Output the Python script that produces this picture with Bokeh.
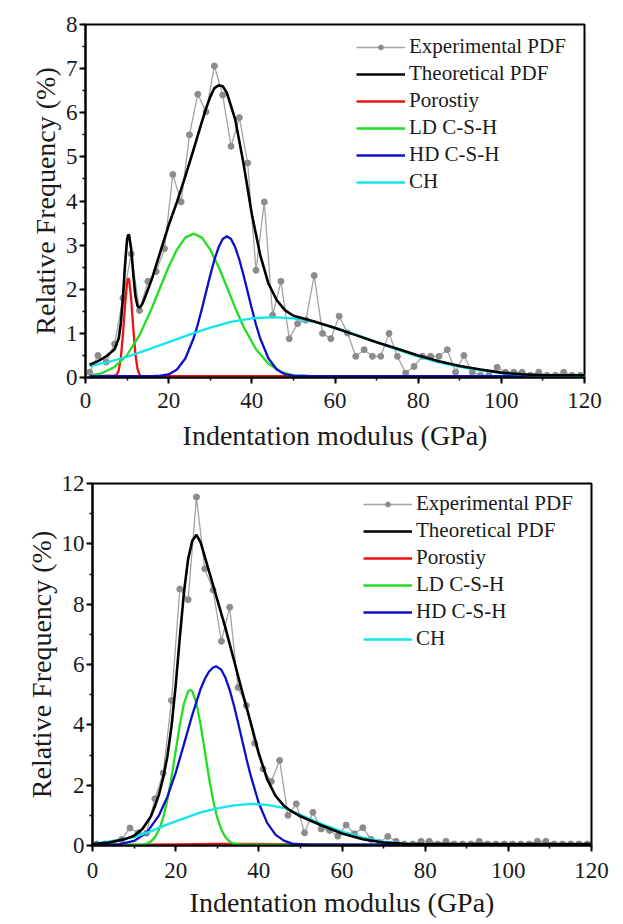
from bokeh.plotting import figure
from bokeh.models import Legend, LegendItem, Label, SingleIntervalTicker, Range1d
from bokeh.layouts import column, row
from bokeh.embed import file_html
from bokeh.resources import INLINE

FONT = "Liberation Serif"

series_names = ["Experimental PDF", "Theoretical PDF", "Porostiy", "LD C-S-H", "HD C-S-H", "CH"]

# ---------------- panel (a) ----------------
a_exp_x = [1, 3, 5, 7, 9, 11, 13, 15, 17, 19, 21, 23, 25, 27, 29, 31, 33, 35, 37, 39,
           41, 43, 45, 47, 49, 51, 53, 55, 57, 59, 61, 63, 65, 67, 69, 71, 73, 75, 77, 79,
           81, 83, 85, 87, 89, 91, 93, 95, 97, 99, 101, 103, 105, 107, 109, 111, 113, 115, 117, 119]
a_exp_y = [0.12, 0.50, 0.35, 0.76, 1.80, 2.80, 1.52, 2.18, 2.40, 2.92,
           4.60, 3.98, 5.50, 6.42, 6.02, 7.06, 6.40, 5.24, 5.89, 4.86,
           2.43, 3.98, 1.41, 2.18, 0.88, 1.22, 1.30, 2.31, 1.00, 0.88,
           1.39, 1.01, 0.48, 0.63, 0.48, 0.48, 1.00, 0.48, 0.10, 0.25,
           0.48, 0.48, 0.48, 0.63, 0.12, 0.50, 0.12, 0.05, 0.05, 0.23,
           0.12, 0.12, 0.12, 0.05, 0.12, 0.05, 0.05, 0.12, 0.05, 0.05]

a_theo_x = [1, 3, 5, 7, 8, 8.5, 9, 9.5, 10, 10.3, 10.5, 11, 11.5, 12, 12.5, 13, 13.5, 14, 16, 18,
            20, 22, 24, 26, 28, 29, 30, 31, 32, 33, 34, 36, 38, 40, 42, 44, 46, 48, 50, 55,
            60, 65, 70, 75, 80, 85, 90, 95, 100, 105, 110, 115, 120]
a_theo_y = [0.29, 0.37, 0.48, 0.64, 0.89, 1.23, 1.81, 2.54, 3.13, 3.24, 3.22, 2.90, 2.33, 1.85, 1.62, 1.58, 1.64, 1.74, 2.24, 2.85,
            3.45, 3.98, 4.56, 5.17, 5.80, 6.10, 6.36, 6.56, 6.62, 6.60, 6.45, 5.85, 4.85, 3.70, 2.78, 2.13, 1.75, 1.52, 1.40, 1.27,
            1.12, 0.96, 0.80, 0.65, 0.50, 0.37, 0.26, 0.18, 0.11, 0.07, 0.05, 0.05, 0.05]

a_por_x = [1, 7, 7.5, 8, 8.5, 9, 9.5, 10, 10.3, 10.5, 11, 11.5, 12, 12.5, 13, 13.5, 14, 120]
a_por_y = [0.03, 0.04, 0.06, 0.16, 0.45, 0.97, 1.63, 2.15, 2.25, 2.21, 1.76, 1.10, 0.53, 0.20, 0.06, 0.03, 0.03, 0.03]

a_ld_x = [1, 4, 7, 10, 13, 16, 18, 20, 22, 24, 26, 28, 30, 32, 34, 36, 38, 41, 44, 47, 50, 55, 120]
a_ld_y = [0.04, 0.10, 0.24, 0.51, 0.96, 1.58, 2.05, 2.51, 2.90, 3.17, 3.26, 3.17, 2.90, 2.51, 2.05, 1.58, 1.15, 0.64, 0.31, 0.13, 0.05, 0.03, 0.03]

a_hd_x = [1, 16, 18, 20, 22, 24, 26, 27, 28, 29, 30, 31, 32, 33, 34, 35, 36, 37, 38, 39,
          40, 41, 42, 44, 46, 48, 50, 54, 120]
a_hd_y = [0.03, 0.03, 0.04, 0.07, 0.18, 0.43, 0.89, 1.20, 1.56, 1.94, 2.32, 2.67, 2.95, 3.14, 3.20, 3.14, 2.95, 2.67, 2.32, 1.94,
          1.56, 1.20, 0.89, 0.43, 0.18, 0.07, 0.04, 0.03, 0.03]

a_ch_x = [1, 5, 10, 15, 20, 25, 30, 35, 40, 45, 50, 55, 60, 65, 70, 75, 80, 85, 90, 95, 100, 105, 110, 115, 120]
a_ch_y = [0.26, 0.34, 0.47, 0.63, 0.80, 0.97, 1.13, 1.26, 1.34, 1.37, 1.34, 1.26, 1.13, 0.97, 0.80, 0.63, 0.47, 0.34, 0.24, 0.16, 0.10, 0.06, 0.04, 0.03, 0.03]

# ---------------- panel (b) ----------------
b_exp_x = [1, 3, 5, 7, 9, 11, 13, 15, 17, 19, 21, 23, 25, 27, 29, 31, 33, 35, 37, 39,
           41, 43, 45, 47, 49, 51, 53, 55, 57, 59, 61, 63, 65, 67, 69, 71, 73, 75, 77, 79,
           81, 83, 85, 87, 89, 91, 93, 95, 97, 99, 101, 103, 105, 107, 109, 111, 113, 115, 117, 119]
b_exp_y = [0.05, 0.05, 0.08, 0.20, 0.58, 0.42, 0.41, 1.55, 2.40, 4.81,
           8.50, 8.15, 11.55, 9.17, 8.47, 6.77, 7.90, 5.24, 4.64, 3.39,
           2.54, 2.12, 2.82, 1.00, 1.38, 0.42, 1.10, 0.55, 0.50, 0.31,
           0.68, 0.39, 0.59, 0.20, 0.10, 0.30, 0.14, 0.05, 0.05, 0.14,
           0.14, 0.05, 0.14, 0.05, 0.05, 0.05, 0.14, 0.05, 0.05, 0.05,
           0.05, 0.05, 0.05, 0.14, 0.14, 0.05, 0.05, 0.05, 0.05, 0.05]

b_theo_x = [0, 4, 8, 10, 12, 14, 15, 16, 17, 18, 19, 20, 21, 22, 23, 24, 25, 26, 28, 30,
            32, 34, 36, 38, 40, 42, 44, 46, 48, 50, 55, 60, 65, 70, 75, 80, 120]
b_theo_y = [0.05, 0.10, 0.22, 0.32, 0.55, 0.95, 1.30, 1.70, 2.25, 2.95, 3.95, 5.30, 6.90, 8.40, 9.50, 10.10, 10.30, 10.05, 9.10, 8.15,
            7.20, 6.15, 5.10, 4.10, 3.05, 2.20, 1.65, 1.32, 1.12, 0.97, 0.67, 0.40, 0.21, 0.10, 0.06, 0.05, 0.05]

b_por_x = [0, 12, 20, 30, 40, 50, 60, 70, 120]
b_por_y = [0.02, 0.03, 0.04, 0.05, 0.05, 0.04, 0.03, 0.02, 0.02]

b_ld_x = [0, 12, 13, 14, 15, 16, 17, 18, 19, 20, 21, 22, 23, 23.5, 24, 25, 26, 27, 28, 29,
          30, 31, 32, 33, 34, 36, 120]
b_ld_y = [0.03, 0.03, 0.06, 0.13, 0.27, 0.52, 0.92, 1.50, 2.26, 3.13, 4.00, 4.71, 5.11, 5.16, 5.11, 4.71, 4.00, 3.13, 2.26, 1.50,
          0.92, 0.52, 0.27, 0.13, 0.06, 0.03, 0.03]

b_hd_x = [0, 6, 10, 13, 16, 18, 20, 22, 24, 26, 27, 28, 29, 29.8, 31, 32, 33, 34, 35, 36,
          37, 38, 40, 42, 44, 46, 48, 52, 120]
b_hd_y = [0.03, 0.03, 0.15, 0.42, 1.00, 1.61, 2.41, 3.36, 4.33, 5.19, 5.52, 5.76, 5.90, 5.94, 5.82, 5.55, 5.15, 4.65, 4.08, 3.48,
          2.89, 2.34, 1.40, 0.75, 0.36, 0.16, 0.06, 0.03, 0.03]

b_ch_x = [0, 5, 10, 14, 18, 22, 26, 30, 34, 38, 42, 46, 50, 55, 60, 65, 70, 75, 80, 90, 120]
b_ch_y = [0.05, 0.15, 0.28, 0.47, 0.70, 0.90, 1.10, 1.23, 1.33, 1.38, 1.35, 1.25, 1.02, 0.72, 0.46, 0.26, 0.13, 0.06, 0.03, 0.03, 0.03]

COLORS = {"exp_line": "#a3a3a3", "exp_marker": "#8c8c8c", "theo": "#000000",
          "por": "#ee1111", "ld": "#22dd22", "hd": "#0f0fc8", "ch": "#11e6f0"}


def make_panel(tag, ymax, yint, borders, legend_loc, tag_pos, data, xstand):
    left, right, top, bottom = borders
    p = figure(width=623, height=462, output_backend="svg", toolbar_location=None,
               x_range=Range1d(0, 120), y_range=Range1d(0, ymax), title=None,
               min_border_left=left, min_border_right=right,
               min_border_top=top, min_border_bottom=bottom,
               background_fill_color="white", border_fill_color="white")
    p.xgrid.visible = False
    p.ygrid.visible = False
    p.outline_line_color = "black"
    p.outline_line_width = 2
    p.outline_line_alpha = 1

    p.xaxis.ticker = SingleIntervalTicker(interval=20, num_minor_ticks=2)
    p.yaxis.ticker = SingleIntervalTicker(interval=yint, num_minor_ticks=2)
    p.xaxis.axis_label = "Indentation modulus (GPa)"
    p.yaxis.axis_label = "Relative Frequency (%)"
    for ax in (p.xaxis[0], p.yaxis[0]):
        ax.axis_line_width = 2
        ax.axis_line_color = "black"
        ax.major_tick_line_width = 2
        ax.minor_tick_line_width = 1.5
        ax.major_tick_in = 0
        ax.major_tick_out = 6
        ax.minor_tick_in = 0
        ax.minor_tick_out = 3
        ax.major_label_text_font = FONT
        ax.major_label_text_font_size = "23px"
        ax.major_label_text_color = "#1a1a1a"
        ax.axis_label_text_font = FONT
        ax.axis_label_text_font_size = "28px"
        ax.axis_label_text_font_style = "normal"
        ax.axis_label_text_color = "#1a1a1a"
    p.xaxis[0].major_label_standoff = xstand[0]
    p.xaxis[0].axis_label_standoff = xstand[1]
    p.yaxis[0].major_label_standoff = 2
    p.yaxis[0].axis_label_standoff = 2

    (ex, ey, tx, ty, px_, py_, lx, ly, hx, hy, cx, cy) = data
    r_exp_l = p.line(ex, ey, line_color=COLORS["exp_line"], line_width=1.3)
    r_exp_s = p.scatter(ex, ey, marker="circle", size=6, fill_color=COLORS["exp_marker"],
                        line_color=COLORS["exp_marker"])
    r_por = p.line(px_, py_, line_color=COLORS["por"], line_width=2.3)
    r_ld = p.line(lx, ly, line_color=COLORS["ld"], line_width=2.3)
    r_hd = p.line(hx, hy, line_color=COLORS["hd"], line_width=2.3)
    r_ch = p.line(cx, cy, line_color=COLORS["ch"], line_width=2.3)
    r_theo = p.line(tx, ty, line_color=COLORS["theo"], line_width=2.6)

    items = [LegendItem(label=series_names[0], renderers=[r_exp_l, r_exp_s]),
             LegendItem(label=series_names[1], renderers=[r_theo]),
             LegendItem(label=series_names[2], renderers=[r_por]),
             LegendItem(label=series_names[3], renderers=[r_ld]),
             LegendItem(label=series_names[4], renderers=[r_hd]),
             LegendItem(label=series_names[5], renderers=[r_ch])]
    legend = Legend(items=items, location=legend_loc, border_line_color=None,
                    background_fill_alpha=0, padding=0, spacing=0, margin=0,
                    glyph_width=49, glyph_height=12, label_height=27, label_standoff=4,
                    label_text_font=FONT, label_text_font_size="21px",
                    label_text_color="#1a1a1a")
    p.add_layout(legend)

    lab = Label(x=tag_pos[0], y=tag_pos[1], x_units="screen", y_units="screen",
                text=tag, text_font=FONT, text_font_size="25px",
                text_baseline="middle", text_align="left", text_color="#1a1a1a")
    p.add_layout(lab)
    return p


pa = make_panel("(a)", 8, 1, (85, 39, 24, 85), (271, 182), (-68, 360),
                (a_exp_x, a_exp_y, a_theo_x, a_theo_y, a_por_x, a_por_y,
                 a_ld_x, a_ld_y, a_hd_x, a_hd_y, a_ch_x, a_ch_y), (9, 9))
pb = make_panel("(b)", 12, 2, (92, 32, 21, 79), (271, 193), (-80, 369),
                (b_exp_x, b_exp_y, b_theo_x, b_theo_y, b_por_x, b_por_y,
                 b_ld_x, b_ld_y, b_hd_x, b_hd_y, b_ch_x, b_ch_y), (11, 6))

layout = column(row(pa), row(pb), spacing=0)
open("out.html", "w").write(file_html(layout, INLINE))
